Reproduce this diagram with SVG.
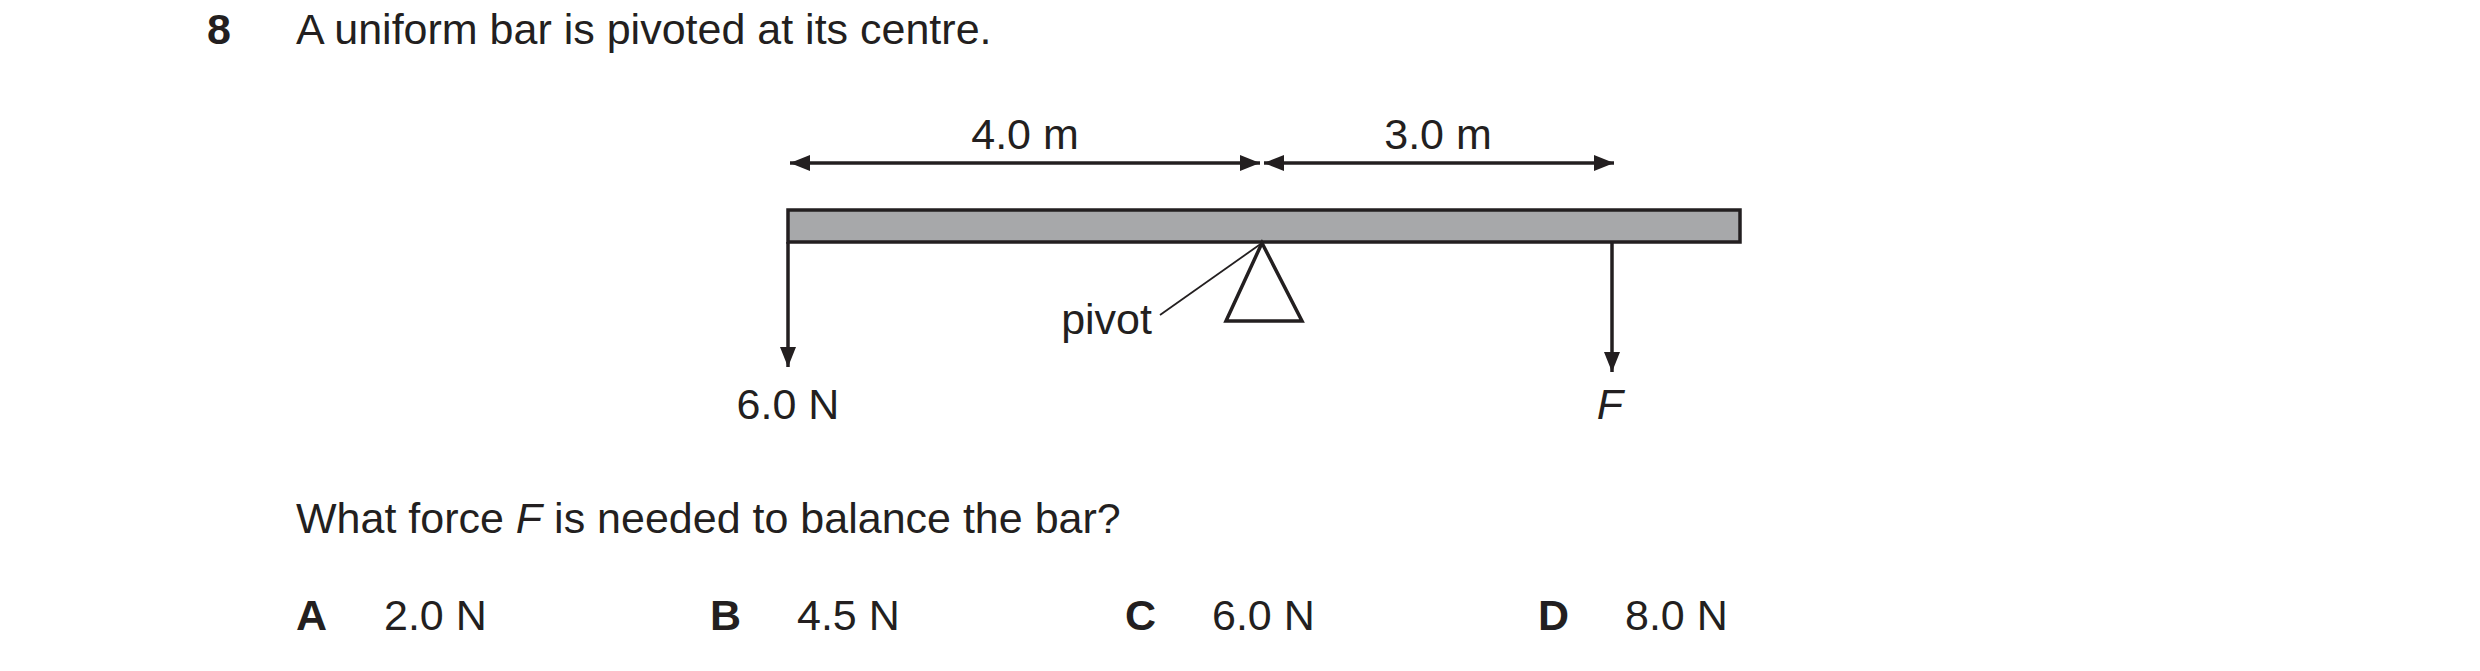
<svg xmlns="http://www.w3.org/2000/svg" width="2480" height="671" viewBox="0 0 2480 671">
<style>
text{font-family:"Liberation Sans",Arial,sans-serif;font-size:43px;fill:#231f20}
.b{font-weight:bold}
.l{stroke:#231f20;stroke-width:3.5;fill:none}
</style>
<defs>
<marker id="ah" viewBox="0 0 10 10" refX="10" refY="5" markerWidth="36" markerHeight="20" markerUnits="userSpaceOnUse" orient="auto-start-reverse"><path d="M0,1 L10,5 L0,9 Z" fill="#231f20"/></marker>
</defs>
<rect width="2480" height="671" fill="#fff"/>
<text x="207" y="44" class="b">8</text>
<text x="296" y="44">A uniform bar is pivoted at its centre.</text>
<g id="connectors">
<line class="l" x1="790" y1="163" x2="1260" y2="163" marker-start="url(#ah)" marker-end="url(#ah)"/>
<line class="l" x1="1264" y1="163" x2="1614" y2="163" marker-start="url(#ah)" marker-end="url(#ah)"/>
<line class="l" x1="788" y1="242" x2="788" y2="367" marker-end="url(#ah)"/>
<line class="l" x1="1612" y1="242" x2="1612" y2="372" marker-end="url(#ah)"/>
<line x1="1160" y1="315" x2="1262" y2="243" stroke="#231f20" stroke-width="1.8"/>
</g>
<g id="bar"><rect x="788" y="210" width="952" height="32" fill="#a7a8aa" stroke="#231f20" stroke-width="3.5"/></g>
<g id="pivot"><path class="l" d="M1262,243 L1302,321 L1226,321 Z"/></g>
<text x="1025" y="149" text-anchor="middle">4.0 m</text>
<text x="1438" y="149" text-anchor="middle">3.0 m</text>
<text x="1152" y="334" text-anchor="end">pivot</text>
<text x="788" y="419" text-anchor="middle">6.0 N</text>
<text x="1610" y="419" text-anchor="middle" font-style="italic">F</text>
<text x="296" y="533">What force <tspan font-style="italic">F</tspan> is needed to balance the bar?</text>
<text x="296" y="630" class="b">A</text><text x="384" y="630">2.0 N</text>
<text x="710" y="630" class="b">B</text><text x="797" y="630">4.5 N</text>
<text x="1125" y="630" class="b">C</text><text x="1212" y="630">6.0 N</text>
<text x="1538" y="630" class="b">D</text><text x="1625" y="630">8.0 N</text>
</svg>
